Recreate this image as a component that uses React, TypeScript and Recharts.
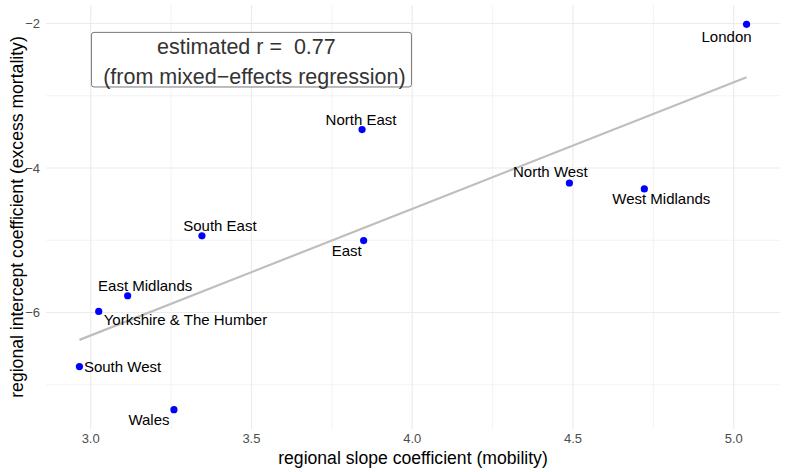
import {
  ScatterChart,
  Scatter,
  XAxis,
  YAxis,
  ReferenceLine,
  ReferenceDot,
} from 'recharts';

const regions = [
  'London',
  'North East',
  'North West',
  'West Midlands',
  'East',
  'South East',
  'East Midlands',
  'Yorkshire & The Humber',
  'South West',
  'Wales',
];
const slopeCoef = [5.04, 3.844, 4.489, 4.722, 3.849, 3.346, 3.115, 3.025, 2.965, 3.259];
const interceptCoef = [-2.01, -3.467, -4.207, -4.29, -5.004, -4.939, -5.768, -5.985, -6.749, -7.346];

const xTicks = [3, 3.5, 4, 4.5, 5];
const xMinor = [3.25, 3.75, 4.25, 4.75];
const yTicks = [-6, -4, -2];
const yMinor = [-7, -5, -3];

const annotationLines = ['estimated r =  0.77', '(from mixed\u2212effects regression)'];

// where each label sits relative to its point (px)
const labelOffsets: Record<string, { dx: number; dy: number; anchor: string }> = {
  London: { dx: -20, dy: 12, anchor: 'middle' },
  'North East': { dx: -1, dy: -10, anchor: 'middle' },
  'North West': { dx: -19, dy: -11, anchor: 'middle' },
  'West Midlands': { dx: 17, dy: 10, anchor: 'middle' },
  East: { dx: -17, dy: 10, anchor: 'middle' },
  'South East': { dx: 18, dy: -10, anchor: 'middle' },
  'East Midlands': { dx: 17.5, dy: -10.5, anchor: 'middle' },
  'Yorkshire & The Humber': { dx: 5, dy: 8, anchor: 'start' },
  'South West': { dx: 4.5, dy: 0, anchor: 'start' },
  Wales: { dx: -25, dy: 10, anchor: 'middle' },
};

const FONT = '"Liberation Sans", Arial, sans-serif';
const GRID = '#EBEBEB';

const points = regions.map((name, i) => ({ name, x: slopeCoef[i], y: interceptCoef[i] }));

// ordinary least squares fit, like geom_smooth(method = "lm")
const n = slopeCoef.length;
const mx = slopeCoef.reduce((a, b) => a + b, 0) / n;
const my = interceptCoef.reduce((a, b) => a + b, 0) / n;
let sxy = 0;
let sxx = 0;
for (let i = 0; i < n; i++) {
  sxy += (slopeCoef[i] - mx) * (interceptCoef[i] - my);
  sxx += (slopeCoef[i] - mx) ** 2;
}
const b1 = sxy / sxx;
const b0 = my - b1 * mx;
const xMin = Math.min(...slopeCoef);
const xMax = Math.max(...slopeCoef);
const fitSegment = [
  { x: xMin, y: b0 + b1 * xMin },
  { x: xMax, y: b0 + b1 * xMax },
];

const PointWithLabel = (props: any) => {
  const { cx, cy, payload } = props;
  const off = labelOffsets[payload.name];
  return (
    <g>
      <circle cx={cx} cy={cy} r={3.6} fill="#0000FF" />
      <text
        x={cx + off.dx}
        y={cy + off.dy}
        dy="0.36em"
        textAnchor={off.anchor}
        fontFamily={FONT}
        fontSize={15}
        fill="#000"
      >
        {payload.name}
      </text>
    </g>
  );
};

const AnnotationBox = (props: any) => {
  const { cx, cy } = props;
  const w = 320;
  const h = 54.6;
  return (
    <g>
      <rect
        x={cx - w / 2}
        y={cy - h / 2}
        width={w}
        height={h}
        rx={2.5}
        fill="#fff"
        stroke="#555"
        strokeWidth={0.8}
      />
      <text
        x={cx - 5}
        y={cy - 13.5}
        dy="0.36em"
        textAnchor="middle"
        fontFamily={FONT}
        fontSize={21.5}
        fill="#333"
        style={{ whiteSpace: 'pre' }}
      >
        {annotationLines[0]}
      </text>
      <text x={cx + 3} y={cy + 16.8} dy="0.36em" textAnchor="middle" fontFamily={FONT} fontSize={21.5} fill="#333">
        {annotationLines[1]}
      </text>
    </g>
  );
};

const fmtY = (v: number) => (v < 0 ? `\u2212${Math.abs(v)}` : `${v}`);

export default function App() {
  return (
    <div style={{ position: 'absolute', left: 0, top: 0, background: '#fff' }}>
      <ScatterChart width={787} height={472} margin={{ top: 5, right: 7, bottom: 0, left: 0 }}>
        <XAxis
          type="number"
          dataKey="x"
          domain={[2.861, 5.144]}
          ticks={xTicks}
          tickFormatter={(v: number) => v.toFixed(1)}
          height={43}
          tickSize={0}
          tickMargin={5}
          axisLine={false}
          tick={{ fontSize: 13, fill: '#4D4D4D', fontFamily: FONT }}
          label={{
            content: (p: any) => {
              const vb = p.viewBox;
              return (
                <text
                  x={vb.x + vb.width / 2}
                  y={458}
                  dy="0.36em"
                  textAnchor="middle"
                  fontFamily={FONT}
                  fontSize={17.6}
                  fill="#000"
                >
                  regional slope coefficient (mobility)
                </text>
              );
            },
          }}
        />
        <YAxis
          type="number"
          dataKey="y"
          domain={[-7.613, -1.743]}
          ticks={yTicks}
          tickFormatter={fmtY}
          width={46}
          tickSize={0}
          tickMargin={6}
          axisLine={false}
          tick={{ fontSize: 13, fill: '#4D4D4D', fontFamily: FONT }}
          label={{
            content: (p: any) => {
              const vb = p.viewBox;
              const cy = vb.y + vb.height / 2;
              return (
                <text
                  x={17}
                  y={cy}
                  dy="0.36em"
                  textAnchor="middle"
                  transform={`rotate(-90 17 ${cy})`}
                  fontFamily={FONT}
                  fontSize={17.6}
                  fill="#000"
                >
                  regional intercept coefficient (excess mortality)
                </text>
              );
            },
          }}
        />
        {xMinor.map((v) => (
          <ReferenceLine key={`xm${v}`} x={v} stroke={GRID} strokeWidth={0.6} />
        ))}
        {yMinor.map((v) => (
          <ReferenceLine key={`ym${v}`} y={v} stroke={GRID} strokeWidth={0.6} />
        ))}
        {xTicks.map((v) => (
          <ReferenceLine key={`x${v}`} x={v} stroke={GRID} strokeWidth={1.1} />
        ))}
        {yTicks.map((v) => (
          <ReferenceLine key={`y${v}`} y={v} stroke={GRID} strokeWidth={1.1} />
        ))}
        <ReferenceLine segment={fitSegment} stroke="#BEBEBE" strokeWidth={2.2} />
        <Scatter data={points} shape={PointWithLabel} isAnimationActive={false} />
        <ReferenceDot x={3.5} y={-2.5} shape={AnnotationBox} />
      </ScatterChart>
    </div>
  );
}
